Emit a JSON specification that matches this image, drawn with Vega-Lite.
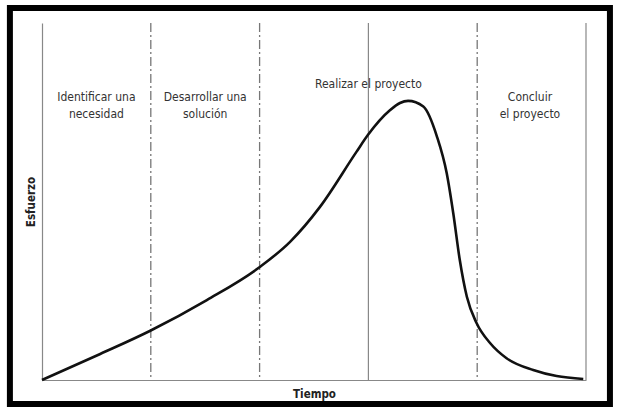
{
  "$schema": "https://vega.github.io/schema/vega-lite/v6.json",
  "width": 544,
  "height": 357,
  "autosize": {"type": "none"},
  "padding": {"left": 42, "top": 23, "right": 33, "bottom": 40},
  "background": "white",
  "config": {
    "view": {"stroke": null},
    "axis": {
      "labels": false,
      "ticks": false,
      "grid": false,
      "domainColor": "#888888",
      "domainWidth": 1.2,
      "titleFont": "DejaVu Sans Condensed, Roboto, sans-serif",
      "titleFontWeight": "bold",
      "titleFontSize": 11.5,
      "titleColor": "#222222"
    }
  },
  "datasets": {
    "curve": [
      {"t": 0, "e": 0},
      {"t": 10.7, "e": 7.3},
      {"t": 19.9, "e": 13.8},
      {"t": 30.3, "e": 22.4},
      {"t": 39.9, "e": 31.5},
      {"t": 45.6, "e": 38.7},
      {"t": 51.1, "e": 48.5},
      {"t": 57.8, "e": 63.9},
      {"t": 59.9, "e": 68.6},
      {"t": 64.0, "e": 75.6},
      {"t": 65.8, "e": 77.6},
      {"t": 67.3, "e": 78.2},
      {"t": 70.1, "e": 76.6},
      {"t": 72.6, "e": 68.2},
      {"t": 74.4, "e": 57.9},
      {"t": 75.6, "e": 46.7},
      {"t": 76.8, "e": 33.6},
      {"t": 78.1, "e": 23.3},
      {"t": 79.9, "e": 15.9},
      {"t": 82.4, "e": 10.3},
      {"t": 85.4, "e": 6.1},
      {"t": 90.3, "e": 2.8},
      {"t": 94.6, "e": 1.1},
      {"t": 99.5, "e": 0.3}
    ],
    "labels": [
      {"t": 10, "e": 79.3, "text": "Identificar una"},
      {"t": 10, "e": 74.5, "text": "necesidad"},
      {"t": 30, "e": 79.3, "text": "Desarrollar una"},
      {"t": 30, "e": 74.5, "text": "solución"},
      {"t": 60, "e": 82.8, "text": "Realizar el proyecto"},
      {"t": 89.7, "e": 79.3, "text": "Concluir"},
      {"t": 89.7, "e": 74.5, "text": "el proyecto"}
    ],
    "solid": [{"t": 60}, {"t": 100}],
    "dashed": [{"t": 20}, {"t": 40}, {"t": 80}],
    "frame": [{"x1": -5.9, "x2": 104.4, "y1": -6.7, "y2": 104.2}]
  },
  "layer": [
    {
      "data": {"name": "frame"},
      "mark": {"type": "rect", "fill": null, "stroke": "black", "strokeWidth": 6, "clip": false},
      "encoding": {
        "x": {"field": "x1", "type": "quantitative", "scale": {"domain": [0, 100], "nice": false, "zero": false}, "title": "Tiempo"},
        "x2": {"field": "x2"},
        "y": {"field": "y1", "type": "quantitative", "scale": {"domain": [0, 100], "nice": false, "zero": false}, "title": "Esfuerzo"},
        "y2": {"field": "y2"}
      }
    },
    {
      "data": {"name": "solid"},
      "mark": {"type": "rule", "color": "#888888", "strokeWidth": 1.2},
      "encoding": {
        "x": {"field": "t", "type": "quantitative", "title": "Tiempo"}
      }
    },
    {
      "data": {"name": "dashed"},
      "mark": {"type": "rule", "color": "#777777", "strokeWidth": 1.3, "strokeDash": [9, 3, 2, 3]},
      "encoding": {
        "x": {"field": "t", "type": "quantitative", "title": "Tiempo"}
      }
    },
    {
      "data": {"name": "curve"},
      "mark": {"type": "line", "color": "#111111", "strokeWidth": 2.6, "interpolate": "monotone"},
      "encoding": {
        "x": {"field": "t", "type": "quantitative", "title": "Tiempo", "axis": {"titlePadding": 8}},
        "y": {"field": "e", "type": "quantitative", "title": "Esfuerzo", "axis": {"titlePadding": 6}}
      }
    },
    {
      "data": {"name": "labels"},
      "mark": {"type": "text", "font": "DejaVu Sans Condensed, Roboto, sans-serif", "fontSize": 12, "color": "#333333", "align": "center", "baseline": "middle"},
      "encoding": {
        "x": {"field": "t", "type": "quantitative", "title": "Tiempo"},
        "y": {"field": "e", "type": "quantitative", "title": "Esfuerzo"},
        "text": {"field": "text"}
      }
    }
  ]
}
